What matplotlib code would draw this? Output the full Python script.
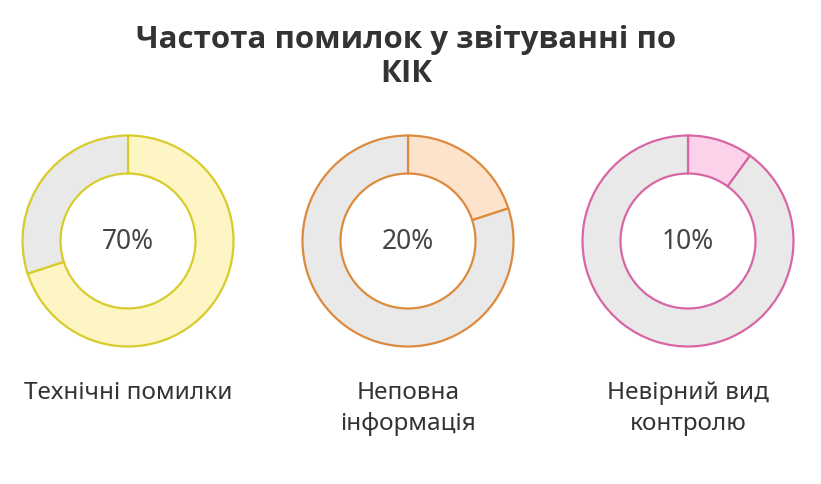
import matplotlib
matplotlib.use('Agg')
from matplotlib import pyplot as plt

# дані діаграми
title = "Частота помилок у звітуванні по\nКІК"
labels = ["Технічні помилки", "Неповна\nінформація", "Невірний вид\nконтролю"]
percents = [70, 20, 10]
fill_colors = ["#fdf6c4", "#fde3cc", "#fbd2ea"]
edge_colors = ["#d8cb2c", "#de8a3e", "#d866a4"]
rest_color = "#e9e9e9"

W, H = 821, 485
fig = plt.figure(figsize=(W / 100, H / 100), dpi=100)
fig.patch.set_facecolor('white')

fig.text(406 / W, 1 - 57 / H, title, ha='center', va='center', fontsize=22.5,
         fontweight='bold', family=['Open Sans', 'DejaVu Sans'], color='#333333',
         linespacing=1.15)

centers_x = [128, 408, 688]
cy = 242
half = 108
r_out = 105.5
r_in = 67.5

for i, pct in enumerate(percents):
    cx = centers_x[i]
    ax = fig.add_axes([(cx - half) / W, (H - cy - half) / H, 2 * half / W, 2 * half / H])
    ax.pie([pct, 100 - pct], colors=[fill_colors[i], rest_color], startangle=90,
           counterclock=False, radius=r_out / half,
           wedgeprops=dict(width=(r_out - r_in) / half, edgecolor=edge_colors[i], linewidth=1.6))
    ax.set_xlim(-1, 1)
    ax.set_ylim(-1, 1)
    ax.set_aspect('equal')
    ax.axis('off')
    ax.text(0, 0, f"{pct}%", ha='center', va='center', fontsize=19,
            family=['Noto Sans', 'DejaVu Sans'], color='#444444')
    fig.text(cx / W, 1 - 381 / H, labels[i], ha='center', va='top', fontsize=17.5,
             family=['Noto Sans', 'DejaVu Sans'], color='#333333', linespacing=1.38)

plt.savefig('out.png', dpi=100, facecolor='white')
